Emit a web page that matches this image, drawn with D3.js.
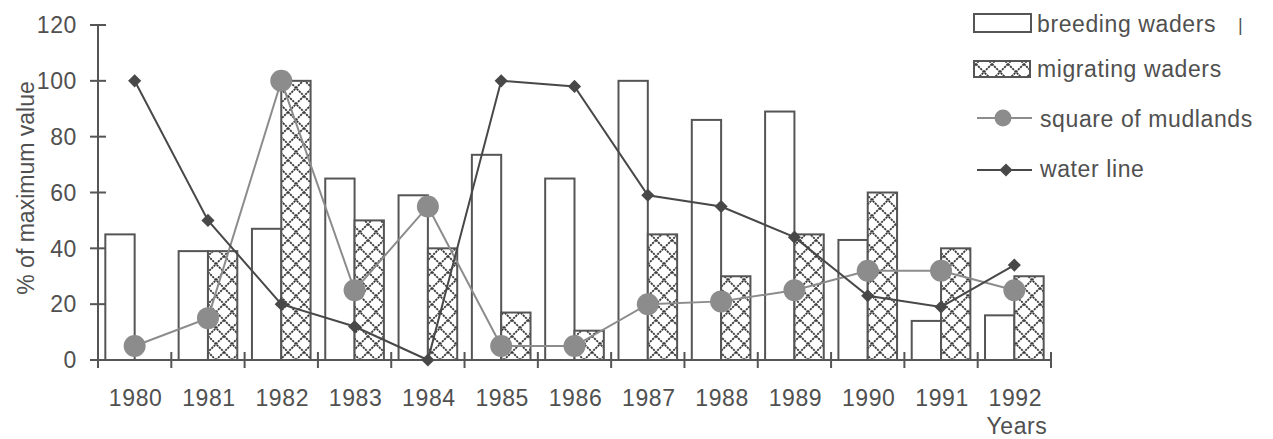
<!DOCTYPE html>
<html>
<head>
<meta charset="utf-8">
<script src="https://cdn.jsdelivr.net/npm/d3@7"></script>
<style>
  html, body { margin: 0; padding: 0; background: #ffffff; }
  svg { display: block; }
  text { font-family: "Liberation Sans", Arial, sans-serif; fill: #505050; }
</style>
</head>
<body>
<svg id="chart" width="1273" height="439"></svg>
<script>
// Waders and habitat indices, expressed as % of each series' maximum value
const years = ["1980","1981","1982","1983","1984","1985","1986","1987","1988","1989","1990","1991","1992"];
const breedingWaders  = [45, 39, 47, 65, 59, 73.5, 65, 100, 86, 89, 43, 14, 16];
const migratingWaders = [0, 39, 100, 50, 40, 17, 10.5, 45, 30, 45, 60, 40, 30];
const mudlandSquare   = [5, 15, 100, 25, 55, 5, 5, 20, 21, 25, 32, 32, 25];
const waterLine       = [100, 50, 20, 12, 0, 100, 98, 59, 55, 44, 23, 19, 34];
const yTicks = [0, 20, 40, 60, 80, 100, 120];
const seriesNames = ["breeding waders", "migrating waders", "square of mudlands", "water line"];

(function draw() {
  const svg = d3.select("#chart");
  const axisColor = "#555555";
  const plotLeft = 98, plotRight = 1051, plotTop = 25, plotBottom = 360;

  const x = d3.scaleBand().domain(years).range([plotLeft, plotRight]).paddingInner(0.2).paddingOuter(0.1);
  const xEdge = d3.scaleLinear().domain([0, years.length]).range([plotLeft, plotRight]);
  const y = d3.scaleLinear().domain([0, 120]).range([plotBottom, plotTop]);
  const half = x.bandwidth() / 2;
  const cx = d => x(d) + half;

  // cross-hatch pattern for migrating waders
  const tile = 16;
  const defs = svg.append("defs");
  const pat = defs.append("pattern")
    .attr("id", "hatch").attr("patternUnits", "userSpaceOnUse")
    .attr("width", tile).attr("height", tile);
  pat.append("rect").attr("width", tile).attr("height", tile).attr("fill", "#ffffff");
  pat.append("path")
    .attr("d", `M0,0 L${tile},${tile} M${tile},0 L0,${tile} M-2,${tile - 2} L2,${tile + 2} M${tile - 2},-2 L${tile + 2},2`)
    .attr("stroke", "#383838").attr("stroke-width", 1.8).attr("stroke-dasharray", "2.2,0.9");

  // Y axis
  const yAxis = svg.append("g").attr("transform", `translate(${plotLeft},0)`);
  yAxis.append("line").attr("x1", 0).attr("x2", 0).attr("y1", y(120)).attr("y2", y(0))
    .attr("stroke", axisColor).attr("stroke-width", 2);
  yAxis.selectAll("line.tick").data(yTicks).join("line").attr("class", "tick")
    .attr("x1", -8).attr("x2", 8).attr("y1", d => y(d)).attr("y2", d => y(d))
    .attr("stroke", axisColor).attr("stroke-width", 2);
  yAxis.selectAll("text").data(yTicks).join("text")
    .attr("x", -21).attr("y", d => y(d)).attr("dy", "0.36em")
    .attr("text-anchor", "end").attr("font-size", 23).attr("letter-spacing", 0.6)
    .text(d => d);

  svg.append("text")
    .attr("transform", `translate(34,188) rotate(-90)`)
    .attr("text-anchor", "middle").attr("font-size", 23)
    .text("% of maximum value");

  // Bars
  const bars = svg.append("g");
  bars.selectAll("rect.breed").data(years).join("rect").attr("class", "breed")
    .attr("x", d => x(d)).attr("width", half)
    .attr("y", (d, i) => y(breedingWaders[i])).attr("height", (d, i) => y(0) - y(breedingWaders[i]))
    .attr("fill", "#ffffff").attr("stroke", axisColor).attr("stroke-width", 2);
  bars.selectAll("rect.migr").data(years.filter((d, i) => migratingWaders[i] > 0)).join("rect").attr("class", "migr")
    .attr("x", d => x(d) + half).attr("width", half)
    .attr("y", d => y(migratingWaders[years.indexOf(d)]))
    .attr("height", d => y(0) - y(migratingWaders[years.indexOf(d)]))
    .attr("fill", "url(#hatch)").attr("stroke", axisColor).attr("stroke-width", 2);

  // X axis with ticks at category boundaries
  const xAxis = svg.append("g");
  xAxis.append("line").attr("x1", plotLeft).attr("x2", plotRight).attr("y1", y(0)).attr("y2", y(0))
    .attr("stroke", axisColor).attr("stroke-width", 2);
  xAxis.selectAll("line.tick").data(d3.range(years.length + 1)).join("line").attr("class", "tick")
    .attr("x1", d => xEdge(d)).attr("x2", d => xEdge(d)).attr("y1", y(0) - 8).attr("y2", y(0) + 8)
    .attr("stroke", axisColor).attr("stroke-width", 2);
  xAxis.selectAll("text").data(years).join("text")
    .attr("x", d => cx(d) + 1).attr("y", 406).attr("text-anchor", "middle")
    .attr("font-size", 23).attr("letter-spacing", 0.6).text(d => d);
  svg.append("text").attr("x", 1017).attr("y", 434).attr("text-anchor", "middle")
    .attr("font-size", 23).attr("letter-spacing", 0.6).text("Years");

  // Square of mudlands
  const mudColor = "#8c8c8c";
  const lineGen = arr => d3.line().x(d => cx(d)).y((d, i) => y(arr[i]));
  svg.append("path").datum(years).attr("d", lineGen(mudlandSquare))
    .attr("fill", "none").attr("stroke", mudColor).attr("stroke-width", 2);
  svg.append("g").selectAll("circle").data(years).join("circle")
    .attr("cx", d => cx(d)).attr("cy", (d, i) => y(mudlandSquare[i])).attr("r", 11)
    .attr("fill", mudColor);

  // Water line
  const waterColor = "#484848";
  const diamond = d3.symbol().type(d3.symbolDiamond2).size(110);
  svg.append("path").datum(years).attr("d", lineGen(waterLine))
    .attr("fill", "none").attr("stroke", waterColor).attr("stroke-width", 2);
  svg.append("g").selectAll("path").data(years).join("path")
    .attr("transform", (d, i) => `translate(${cx(d)},${y(waterLine[i])})`)
    .attr("d", diamond).attr("fill", waterColor);

  // Legend
  const lg = svg.append("g");
  lg.append("rect").attr("x", 974).attr("y", 14).attr("width", 57).attr("height", 18)
    .attr("fill", "#ffffff").attr("stroke", axisColor).attr("stroke-width", 2);
  lg.append("rect").attr("x", 974).attr("y", 61).attr("width", 56).attr("height", 16)
    .attr("fill", "url(#hatch)").attr("stroke", axisColor).attr("stroke-width", 2);
  lg.append("line").attr("x1", 977).attr("x2", 1032).attr("y1", 118).attr("y2", 118)
    .attr("stroke", mudColor).attr("stroke-width", 2);
  lg.append("circle").attr("cx", 1003).attr("cy", 118).attr("r", 8.5).attr("fill", mudColor);
  lg.append("line").attr("x1", 977).attr("x2", 1032).attr("y1", 170).attr("y2", 170)
    .attr("stroke", waterColor).attr("stroke-width", 2);
  lg.append("path").attr("transform", "translate(1006,170)").attr("d", diamond).attr("fill", waterColor);

  const lgText = [[1037, 32], [1037, 77], [1040, 127], [1040, 177]];
  lg.selectAll("text.lab").data(seriesNames).join("text").attr("class", "lab")
    .attr("x", (d, i) => lgText[i][0]).attr("y", (d, i) => lgText[i][1])
    .attr("font-size", 23).attr("letter-spacing", 0.6).text(d => d);
  lg.append("text").attr("x", 1238).attr("y", 31).attr("font-size", 18).text("|");
})();
</script>
</body>
</html>
